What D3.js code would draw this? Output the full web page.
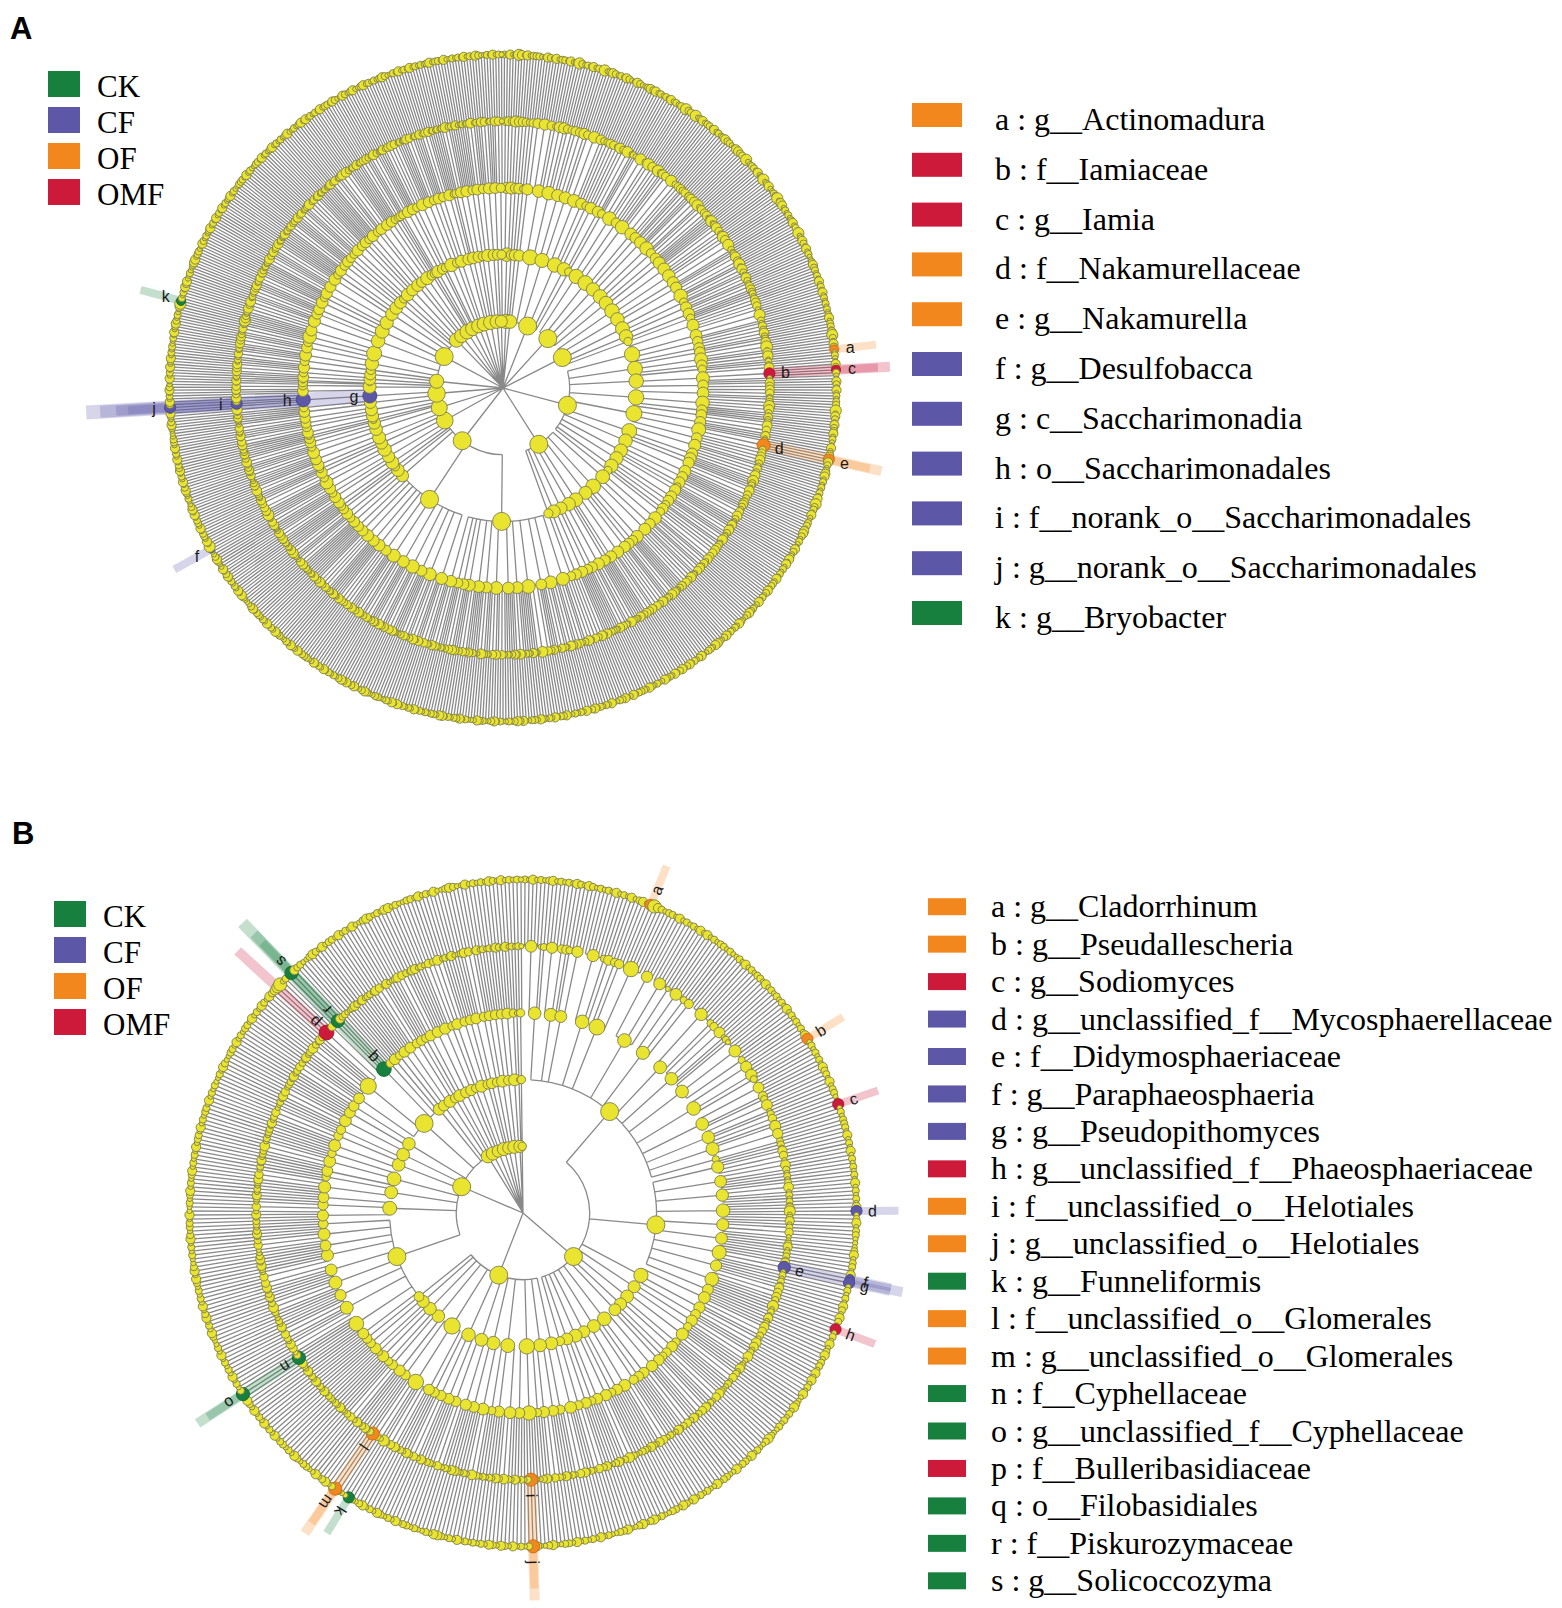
<!DOCTYPE html>
<html>
<head>
<meta charset="utf-8">
<script src="https://cdn.jsdelivr.net/npm/d3@7"></script>
<style>
  body { margin: 0; background: #fff; }
</style>
</head>
<body>
<svg id="canvas"></svg>
<script>
const width = 1562, height = 1608;

// Treatment groups and their colours
const groups = ["CK", "CF", "OF", "OMF"];
const groupColors = ["#18803f", "#5d57a8", "#f2871e", "#cd193a"];

// Taxonomy trees: phylum -> class -> order strings.
// Inside an order string families are split by spaces, each digit is one genus (its abundance class 1-5).
const phylaA = [
  [["21 3", "12 4"], ["31"]],
  [["3 12", "2"], ["21 13"]],
  [["2131 22 1", "312 4 21"], ["21 3 121", "4 12"], ["3212 13", "2 11 3", "21"], ["1 23 2", "312 1"], ["2 1"]],
  [["3121 2 14", "22 1"], ["41 2 3 12", "2131 2"], ["12 3", "2 21 1 3"], ["3 221 4", "1 12"], ["21 3 1", "2 4 1"]],
  [["2 31 12 2", "41 3"], ["3121 2", "1 2 31"], ["21 4 1 23", "2 1"], ["31 2 1", "12 3 2"], ["2 1"]],
  // Actinobacteriota
  [["21 3 12 1", "3121 2", "1 21 2", "31 2"], ["2 13", "42 1 3", "23 1"], ["2 1", "13 232 1 1", "3 21"],
   ["3 12 1 2", "21 4 13 2", "1 3 2"], ["2 31", "21 1 3", "1 2 343 2", "12 3"], ["31 2 1 21", "2 13 1", "4 2"],
   ["2 1 31", "12 2 1 3"], ["3 2 1", "21 13", "2"], ["1 2 3 1", "31 2 1"], ["2 13", "1 2", "21 3"], ["21"]],
  // Chloroflexi
  [["21 3 1 12 2", "3 21"], ["1 2 31 2", "12 1 3 2 1", "2 3"], ["31 2", "2 1 13"], ["2 12 1 3", "21 3 2", "1"],
   ["3 1 2", "2 31 1 2"], ["12 3", "1 2 2"], ["2 1 3 1", "13 2"], ["21 1"]],
  // Proteobacteria
  [["31 2 1 21 3", "2 13 1 2 12 1", "1 3 2", "21 312 1 2 3 1 2", "2 1 13 2", "3 2 1 2 1", "12 1 3 21 1 2",
    "2 31 1", "1 2 1 3 2", "21 2 1 3", "3 12", "2 1 2", "1 21 3 1"],
   ["2 12 1 3 1", "31 2 1 12 2 1", "1 2 3", "21 1 3 2 13 2", "3 2 1 21", "2 1 31 2 1 3", "1 12 2",
    "21 3 1 2", "3 1 2 1", "12 2 31", "2 1 3", "1 2 1 2"],
   ["2 1 3", "21 1"], ["1 2 31", "3 1"], ["2 1"]],
  // Desulfobacterota
  [["2 1 3", "21 3 1"], ["1 2", "3 21 1"], ["2 4 1 3", "12"], ["21 3 1", "2"]],
  // Myxococcota
  [["2 13 1", "3 2 1"], ["1 21 2 3", "2 1"], ["31 2", "1 3"], ["2"]],
  // Patescibacteria
  [["2 1 3", "12 1"], ["3 1", "2 21 1"], ["1 2 3", "2 1"], ["23 1 4 2 31"], ["2 1 3", "21 1", "3"], ["1"]],
  [["2 1 3", "12"], ["3 1 2 1"], ["21 1"]],
  // Acidobacteriota
  [["2 1 3 12", "3 2 1"], ["21 1", "3 4 3 2", "1 2 13"], ["2 31 1 2 1", "12 3"], ["3 1 2", "21 1 3 2", "1 2"],
   ["1 2 31", "2 1 3 1"], ["21 3 1 2", "1 2"], ["3 1 2 1", "12 2"], ["2 1 3", "1 21"], ["1 2"]],
  [["2 13 1", "21 2"], ["3 1 2", "1 2"]],
  [["1 2 3 1", "12 1"], ["2 31"]],
  [["31 2 1", "2 1 3"], ["1 2", "21"], ["3"]],
  [["2 1", "13 2 1"], ["2 3 1"], ["12"]],
  [["3 12 1 2", "1 2 3"], ["21 1"]],
  [["2 1 3", "1 21"], ["3 1 2 1", "2"]],
  [["1 2", "31 2"], ["2 1 3 1"], ["1 2 1"]],
  [["2 13", "1 2 1"], ["3 21 1"]],
  [["2 1 3"], ["12 1"]]
];

const biomarkersA = [
  { id: "a", taxon: "g__Actinomadura", group: "OF", path: [5, 1, 2, 0, 1] },
  { id: "b", taxon: "f__Iamiaceae", group: "OMF", path: [5, 2, 1, 1] },
  { id: "c", taxon: "g__Iamia", group: "OMF", path: [5, 2, 1, 1, 1] },
  { id: "d", taxon: "f__Nakamurellaceae", group: "OF", path: [5, 4, 2, 2] },
  { id: "e", taxon: "g__Nakamurella", group: "OF", path: [5, 4, 2, 2, 1] },
  { id: "f", taxon: "g__Desulfobacca", group: "CF", path: [8, 2, 0, 0, 0] },
  { id: "g", taxon: "c__Saccharimonadia", group: "CF", path: [10, 3] },
  { id: "h", taxon: "o__Saccharimonadales", group: "CF", path: [10, 3, 0] },
  { id: "i", taxon: "f__norank_o__Saccharimonadales", group: "CF", path: [10, 3, 0, 2] },
  { id: "j", taxon: "g__norank_o__Saccharimonadales", group: "CF", path: [10, 3, 0, 2, 0] },
  { id: "k", taxon: "g__Bryobacter", group: "CK", path: [12, 1, 1, 2, 0] }
];

const phylaB = [
  // Ascomycota
  [["21312 1 2", "3121 21 3", "2 1321", "212131 2 13", "12 3 1453212", "2131 21213 1", "31212 2 121",
    "1213121 2", "21 312 1 2", "1 213121 2", "1213 41 2", "12121 3 2", "213 1 2 21", "1 4 1212", "2"],
   ["2 1 3 12 1", "31 2 1 2", "1 2 13 1 2 1", "2 1 3 4 1 2", "3 1 2 21 1", "1 2 3 1 2", "2 1 3 34 1 2",
    "1 2 1 3", "21 3 2 1 4 1", "2 1 3"],
   ["1 2 3 12", "2 1 31", "3 1"], ["2 13 1", "1 2"], ["3 1 2 12 1", "2 1"], ["1 2 3", "21 1"], ["2 1", "3 12"],
   ["2 1 3 1", "12 2 1", "3 1"], ["1 2 1", "21 3 1 2"], ["3 1 2", "2 1"], ["1 2 13", "2 1 3"], ["2 1", "1 3 2"],
   ["21 1"]],
  [["2 1 3 12", "1 2 1"], ["3 1 2", "21 1 3"], ["2 1", "1 3 5 2 1", "2 1 3"], ["1 2 31 2", "3 1 2 1", "2 1"],
   ["2 13 1 2", "1 2 3"], ["3 1 2 1", "12 1 2"], ["2 1 3", "1 21 2", "3 1"], ["2 1 3", "21 2 4 1 12 5 2", "1 3"],
   ["2 1 3 1", "12 2"], ["1 2", "3 1 2 1", "2"], ["2 1 3", "1 2 1"], ["3 1"]],
  // Basidiomycota
  [["2 1 3", "1 2 3 1 5 2 1", "21 3 1 2 12 1", "3 1 2 1", "1 2 31 2 1 3", "2 1 3 12", "12 1 2 3 1", "3 2 1",
    "1 21 2 1 3", "2 1 2"],
   ["2 1 3 1", "12 1 2", "3 1 2"], ["1 2 3 12 1", "2 1"], ["3 1 2", "2 13 1 2", "1 2"], ["2 1 3 1 2", "12 1"],
   ["1 2 1", "3 21 1 2"], ["2 1 3", "1 2 12"], ["2 1 3", "1 2 13 2 1 3 2 345", "12 1 5 3 2", "2 1"],
   ["1 2 3", "2 1"], ["3 1 2"]],
  [["2 1 3", "12 1"], ["3 1"]],
  [["1 2", "3 21"], ["2 1 3"]],
  [["3 1 2 1"], ["12"]],
  [["2 13", "1 2 1"], ["3 1"]],
  [["1 2 3"], ["21 1"]],
  [["3 1", "2 1 2"], ["1 3"]],
  [["2 1 3", "1 2"], ["1"]],
  [["2 1"]]
];

const biomarkersB = [
  { id: "a", taxon: "g__Cladorrhinum", group: "OF", path: [0, 0, 4, 2, 1] },
  { id: "b", taxon: "g__Pseudallescheria", group: "OF", path: [0, 0, 10, 1, 0] },
  { id: "c", taxon: "g__Sodiomyces", group: "OMF", path: [0, 0, 13, 1, 0] },
  { id: "d", taxon: "g__unclassified_f__Mycosphaerellaceae", group: "CF", path: [0, 1, 3, 3, 0] },
  { id: "e", taxon: "f__Didymosphaeriaceae", group: "CF", path: [0, 1, 6, 3] },
  { id: "f", taxon: "g__Paraphaeosphaeria", group: "CF", path: [0, 1, 6, 3, 0] },
  { id: "g", taxon: "g__Pseudopithomyces", group: "CF", path: [0, 1, 6, 3, 1] },
  { id: "h", taxon: "g__unclassified_f__Phaeosphaeriaceae", group: "OMF", path: [0, 1, 8, 4, 0] },
  { id: "i", taxon: "f__unclassified_o__Helotiales", group: "OF", path: [1, 2, 1, 2] },
  { id: "j", taxon: "g__unclassified_o__Helotiales", group: "OF", path: [1, 2, 1, 2, 0] },
  { id: "k", taxon: "g__Funneliformis", group: "CK", path: [1, 7, 1, 2, 0] },
  { id: "l", taxon: "f__unclassified_o__Glomerales", group: "OF", path: [1, 7, 1, 5] },
  { id: "m", taxon: "g__unclassified_o__Glomerales", group: "OF", path: [1, 7, 1, 5, 0] },
  { id: "n", taxon: "f__Cyphellaceae", group: "CK", path: [2, 0, 1, 4] },
  { id: "o", taxon: "g__unclassified_f__Cyphellaceae", group: "CK", path: [2, 0, 1, 4, 0] },
  { id: "p", taxon: "f__Bulleribasidiaceae", group: "OMF", path: [2, 7, 1, 7] },
  { id: "q", taxon: "o__Filobasidiales", group: "CK", path: [2, 7, 2] },
  { id: "r", taxon: "f__Piskurozymaceae", group: "CK", path: [2, 7, 2, 2] },
  { id: "s", taxon: "g__Solicoccozyma", group: "CK", path: [2, 7, 2, 2, 0] }
];

const color = d3.scaleOrdinal().domain(groups).range(groupColors);
const step = 66.7;          // distance between taxonomic rings
const outer = 5 * step;
const bandExt = [0, 84, 84, 70, 54, 42];   // how far a highlight reaches past the outer ring, by depth
const bandWidth = [0, 14, 14, 12, 10, 8];
const serif = "'Liberation Serif', 'Times New Roman', serif";
const sans = "'Liberation Sans', Arial, sans-serif";

const svg = d3.select("#canvas")
    .attr("width", width)
    .attr("height", height)
    .style("background", "#fff");

function toTree(phyla) {
    return {
        children: phyla.map(phylum => ({
            children: phylum.map(cls => ({
                children: cls.map(ord => ({
                    children: ord.split(" ").map(fam => ({
                        children: [...fam].map(g => ({ level: +g }))
                    }))
                }))
            }))
        }))
    };
}

// angle in degrees, 0 = up, clockwise
function polar(angle, r) {
    const a = (angle - 90) * Math.PI / 180;
    return [r * Math.cos(a), r * Math.sin(a)];
}

// node radius from abundance (log scale)
function nodeRadius(d) {
    return Math.min(9, 1.6 + 1.0 * Math.log2(d.value));
}

function drawCladogram(cx, cy, phyla, markers, rotateLabels) {
    const root = d3.hierarchy(toTree(phyla)).sum(d => d.level ? 2 ** d.level : 0);
    d3.cluster().size([360, 1]).separation(() => 1)(root);
    root.each(d => d.y = d.depth * step);

    const g = svg.append("g").attr("transform", `translate(${cx},${cy})`);

    // elbow links: arc at the parent ring, radial line out to each child
    const path = d3.path();
    root.each(n => {
        if (!n.children) return;
        n.children.forEach(c => {
            const p0 = polar(c.x, n.y), p1 = polar(c.x, c.y);
            path.moveTo(p0[0], p0[1]);
            path.lineTo(p1[0], p1[1]);
        });
        if (n.depth > 0 && n.children.length > 1) {
            const a0 = n.children[0].x, a1 = n.children[n.children.length - 1].x;
            const s = polar(a0, n.y);
            path.moveTo(s[0], s[1]);
            path.arc(0, 0, n.y, (a0 - 90) * Math.PI / 180, (a1 - 90) * Math.PI / 180);
        }
    });
    g.append("path")
        .attr("d", path.toString())
        .attr("fill", "none")
        .attr("stroke", "#898989")
        .attr("stroke-width", 1.3);

    const marked = markers.map(m => {
        let node = root;
        m.path.forEach(i => node = node.children[i]);
        return Object.assign({}, m, { node });
    });
    const markOf = new Map(marked.map(m => [m.node, m]));

    // highlight strips
    g.selectAll("rect.band")
        .data(marked)
        .enter()
        .append("rect")
        .attr("class", "band")
        .attr("x", d => d.node.y - 3)
        .attr("y", d => -bandWidth[d.node.depth] / 2)
        .attr("width", d => outer + bandExt[d.node.depth] - d.node.y + 3)
        .attr("height", d => bandWidth[d.node.depth])
        .attr("transform", d => `rotate(${d.node.x - 90})`)
        .attr("fill", d => color(d.group))
        .attr("opacity", 0.25);

    // nodes
    const nodes = root.descendants().filter(d => d.depth > 0);
    g.selectAll("circle")
        .data(nodes)
        .enter()
        .append("circle")
        .attr("cx", d => polar(d.x, d.y)[0])
        .attr("cy", d => polar(d.x, d.y)[1])
        .attr("r", nodeRadius)
        .attr("fill", d => markOf.has(d) ? color(markOf.get(d).group) : "#e9e42f")
        .attr("stroke", d => markOf.has(d) ? d3.color(color(markOf.get(d).group)).darker(0.6) : "#7f7e4c")
        .attr("stroke-width", 0.9);

    // letters
    g.selectAll("text.lab")
        .data(marked)
        .enter()
        .append("text")
        .attr("class", "lab")
        .attr("transform", d => {
            const p = polar(d.node.x, d.node.y + 16);
            return `translate(${p[0]},${p[1]})` + (rotateLabels ? ` rotate(${d.node.x - 90})` : "");
        })
        .attr("text-anchor", "middle")
        .attr("dominant-baseline", "central")
        .style("font-family", sans)
        .style("font-size", "16px")
        .attr("fill", "#1a1a1a")
        .text(d => d.id);
}

function drawGroupLegend(x, y) {
    const lg = svg.append("g").attr("transform", `translate(${x},${y})`);
    lg.selectAll("rect")
        .data(groups)
        .enter()
        .append("rect")
        .attr("x", 0)
        .attr("y", (d, i) => i * 36)
        .attr("width", 32)
        .attr("height", 26)
        .attr("fill", d => color(d));
    lg.selectAll("text")
        .data(groups)
        .enter()
        .append("text")
        .attr("x", 49)
        .attr("y", (d, i) => i * 36 + 26)
        .style("font-family", serif)
        .style("font-size", "31px")
        .text(d => d);
}

function drawMarkerLegend(markers, x, y, rowH, sw, sh, tx, base) {
    const lg = svg.append("g").attr("transform", `translate(${x},${y})`);
    lg.selectAll("rect")
        .data(markers)
        .enter()
        .append("rect")
        .attr("x", 0)
        .attr("y", (d, i) => i * rowH - sh / 2)
        .attr("width", sw)
        .attr("height", sh)
        .attr("fill", d => color(d.group));
    lg.selectAll("text")
        .data(markers)
        .enter()
        .append("text")
        .attr("x", tx)
        .attr("y", (d, i) => i * rowH + base)
        .style("font-family", serif)
        .style("font-size", "32px")
        .text(d => `${d.id} : ${d.taxon}`);
}

// panel letters
svg.append("text").attr("x", 10).attr("y", 39).text("A")
    .style("font-family", sans).style("font-weight", "bold").style("font-size", "31px");
svg.append("text").attr("x", 12).attr("y", 844).text("B")
    .style("font-family", sans).style("font-weight", "bold").style("font-size", "31px");

drawCladogram(503, 388, phylaA, biomarkersA, false);
drawCladogram(523, 1213, phylaB, biomarkersB, true);

drawGroupLegend(48, 71);
drawGroupLegend(54, 901);

drawMarkerLegend(biomarkersA, 912, 115, 49.8, 50, 24, 83, 15);
drawMarkerLegend(biomarkersB, 928, 906.7, 37.45, 38, 17, 63, 10.6);
</script>
</body>
</html>
